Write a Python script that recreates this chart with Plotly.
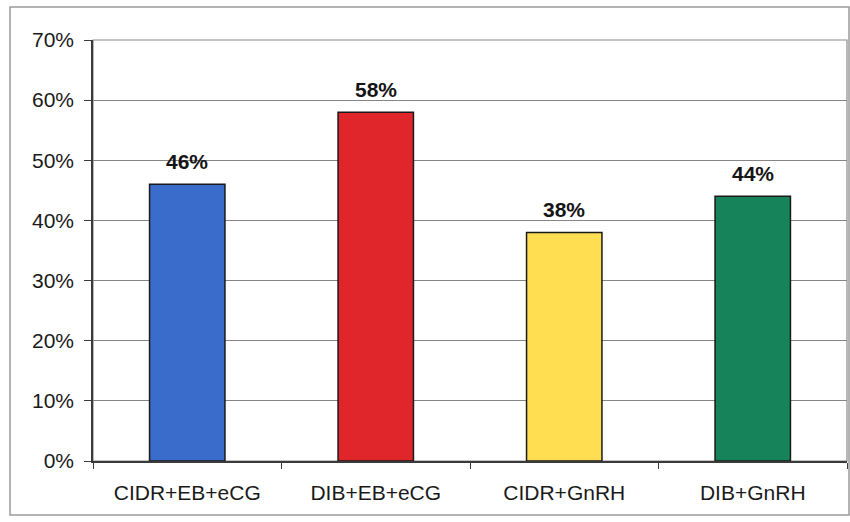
import plotly.graph_objects as go

# Pregnancy rate by synchronization protocol
categories = ["CIDR+EB+eCG", "DIB+EB+eCG", "CIDR+GnRH", "DIB+GnRH"]
rates = [0.46, 0.58, 0.38, 0.44]
bar_colors = ["#3a6ccb", "#e0262a", "#ffde52", "#16835a"]
y_ticks = [0, 0.1, 0.2, 0.3, 0.4, 0.5, 0.6, 0.7]
y_tick_labels = ["0%", "10%", "20%", "30%", "40%", "50%", "60%", "70%"]

W, H = 850, 522
L, R, T, B = 93, 3, 40, 61
pw, ph = W - L - R, H - T - B

def px_x(x):
    return (x - L) / pw

def px_y(y):
    return (H - B - y) / ph

FONT = "Liberation Sans, Arial"

fig = go.Figure(
    go.Bar(
        x=categories,
        y=rates,
        marker=dict(color=bar_colors, line=dict(color="#1a1a1a", width=1.5)),
        width=0.40,
        cliponaxis=False,
    )
)

# value labels above each bar
annotations = [
    dict(x=c, y=v, xref="x", yref="y", text=f"<b>{v:.0%}</b>",
         showarrow=False, yanchor="bottom", yshift=9,
         font=dict(family=FONT, size=21, color="#151515"))
    for c, v in zip(categories, rates)
]

fig.update_layout(
    width=W,
    height=H,
    margin=dict(l=L, r=R, t=T, b=B),
    paper_bgcolor="white",
    plot_bgcolor="white",
    showlegend=False,
    font=dict(family=FONT, size=21, color="#1a1a1a"),
    annotations=annotations,
    shapes=[
        # outer chart frame
        dict(type="rect", xref="paper", yref="paper",
             x0=px_x(10), x1=px_x(849), y0=px_y(515), y1=px_y(7),
             line=dict(color="#9a9a9a", width=1.5), layer="below"),
        # plot area frame
        dict(type="rect", xref="paper", yref="paper",
             x0=0, x1=1, y0=0, y1=1,
             line=dict(color="#8a8a8a", width=1.2), layer="below"),
    ],
)

fig.update_yaxes(
    range=[0, 0.7],
    tickvals=y_ticks,
    ticktext=y_tick_labels,
    showgrid=True,
    gridcolor="#858585",
    gridwidth=1,
    showline=True,
    linecolor="#3a3a3a",
    linewidth=1.5,
    ticks="outside",
    ticklen=7,
    tickcolor="#3a3a3a",
    zeroline=False,
    ticklabelstandoff=6,
    tickfont=dict(size=21),
)

fig.update_xaxes(
    showline=True,
    linecolor="#3a3a3a",
    linewidth=1.5,
    ticks="outside",
    tickson="boundaries",
    ticklen=6,
    tickcolor="#3a3a3a",
    showgrid=False,
    ticklabelstandoff=12,
    tickfont=dict(size=21),
)

fig.write_html("out.html")
